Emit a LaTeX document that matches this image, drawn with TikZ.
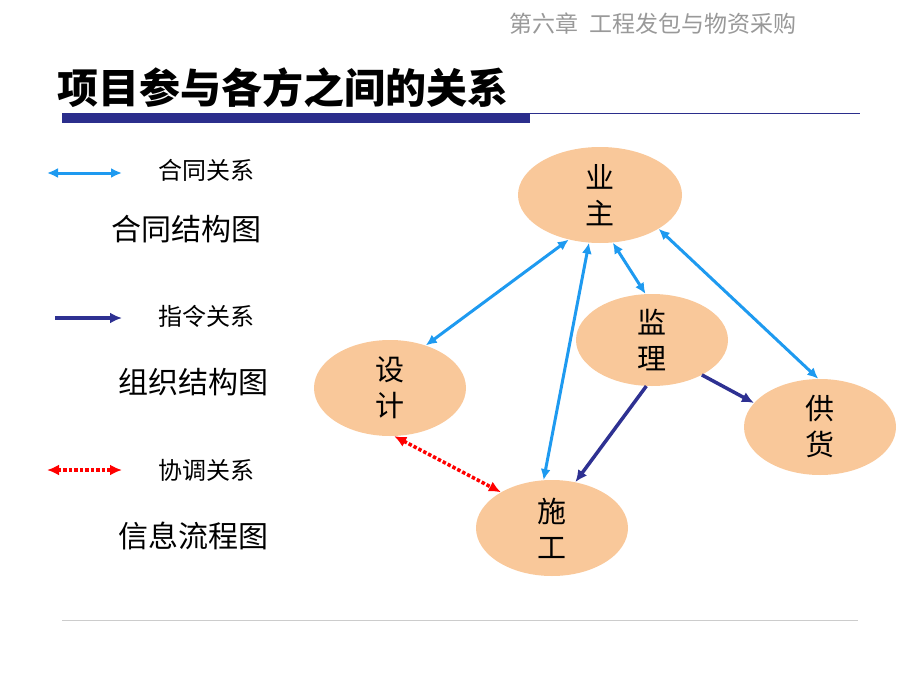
\documentclass[tikz,border=0pt]{standalone}
\usepackage{fontspec}
\setmainfont{Noto Sans CJK SC}
\usetikzlibrary{arrows.meta,shapes.geometric}
\definecolor{peach}{HTML}{F9C89A}
\definecolor{lb}{HTML}{1E9AF0}
\definecolor{db}{HTML}{2E3192}
\definecolor{barb}{HTML}{2B2E8C}
\begin{document}
\begin{tikzpicture}[x=1pt,y=-1pt,
  ell/.style={ellipse,fill=peach,inner sep=0pt},
  lbl/.style={font=\fontsize{29}{36}\selectfont,align=center},
  con/.style={lb,line width=3pt,{Latex[length=11pt,width=10pt]}-{Latex[length=11pt,width=10pt]}},
  cmd/.style={db,line width=3.5pt,-{Latex[length=12pt,width=11pt]}},
  crd/.style={red,line width=3.5pt,dotted,{Latex[length=12pt,width=11pt]}-{Latex[length=12pt,width=11pt]}},
  leg/.style={font=\fontsize{24}{28}\selectfont},
  big/.style={font=\fontsize{30}{36}\selectfont}]
\useasboundingbox (0,0) rectangle (920,690);
\node[font=\fontsize{23}{28}\selectfont,text=gray!80] (hdr) at (653,24) {第六章\ \ 工程发包与物资采购};
\node[font=\fontsize{41}{48}\selectfont\bfseries,anchor=west] (ttl) at (54,88) {项目参与各方之间的关系};
\fill[barb] (62,113) rectangle (530,123);
\draw[barb,line width=1pt] (530,113.5) -- (860,113.5);
\draw[gray!40,line width=1pt] (62,620) -- (858,620);
% legend
\coordinate (a1) at (47,173); \coordinate (a2) at (122,173);
\draw[con] (a1) -- (a2);
\node[leg] (t1) at (206,170) {合同关系};
\node[big] (t2) at (186,229) {合同结构图};
\coordinate (b1) at (55,318); \coordinate (b2) at (122,318);
\draw[cmd] (b1) -- (b2);
\node[leg] (t3) at (206,316) {指令关系};
\node[big] (t4) at (193,382) {组织结构图};
\coordinate (c1) at (47,470); \coordinate (c2) at (122,470);
\draw[crd] (c1) -- (c2);
\node[leg] (t5) at (206,470) {协调关系};
\node[big] (t6) at (193,536) {信息流程图};
% nodes
\node[ell,minimum width=164pt,minimum height=96pt] (yz) at (600,195) {};
\node[lbl] at (yz) {业\\主};
\node[ell,minimum width=152pt,minimum height=92pt] (jl) at (652,340) {};
\node[lbl] at (jl) {监\\理};
\node[ell,minimum width=152pt,minimum height=96pt] (sj) at (390,388) {};
\node[lbl] at (sj) {设\\计};
\node[ell,minimum width=152pt,minimum height=96pt] (gh) at (820,427) {};
\node[lbl] at (gh) {供\\货};
\node[ell,minimum width=152pt,minimum height=96pt] (sg) at (552,528) {};
\node[lbl] at (sg) {施\\工};
% connectors
\draw[con] (yz.-125) -- (sj.50);
\draw[con] (yz.-103) -- (sg.100);
\draw[con] (yz.-75) -- (jl.98);
\draw[con] (yz.-30) -- (gh.92);
\draw[cmd] (jl.-35) -- (gh.160);
\draw[cmd] (jl.-97) -- (sg.63);
\draw[crd] (sj.-85) -- (sg.145);
\end{tikzpicture}
\end{document}
